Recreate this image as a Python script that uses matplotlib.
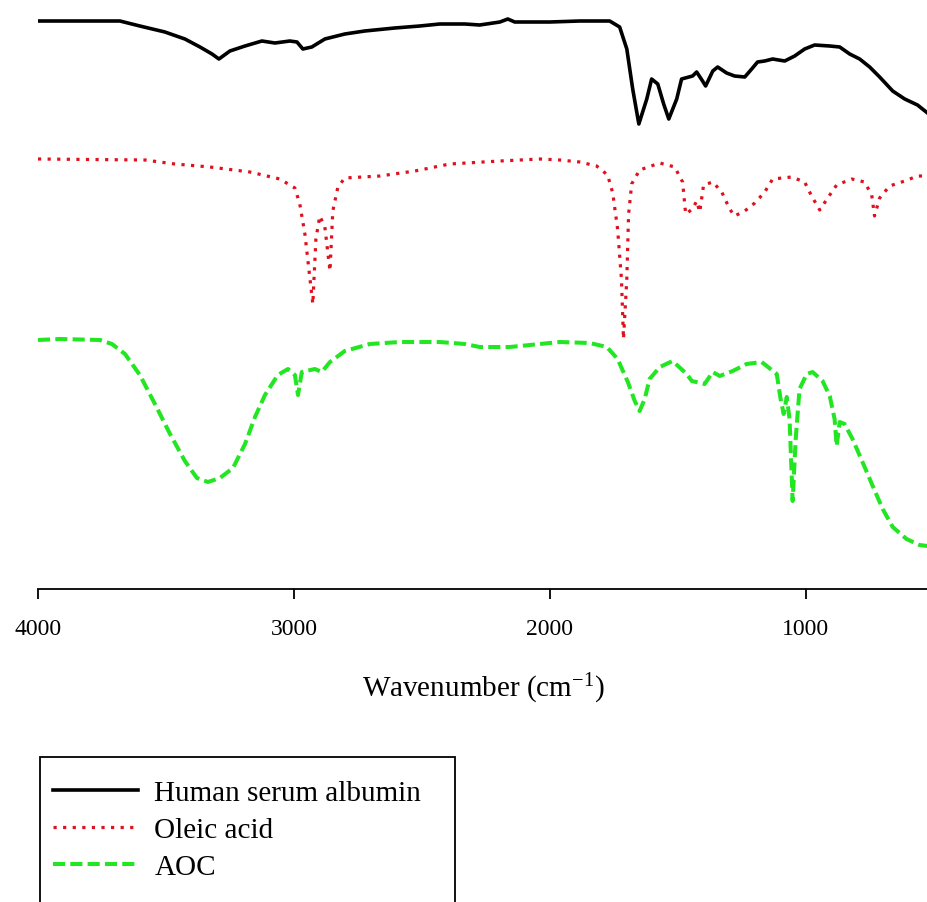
import matplotlib
matplotlib.use("Agg")
import matplotlib.pyplot as plt
from matplotlib.patches import Rectangle

plt.rcParams['font.family'] = ['Liberation Serif', 'DejaVu Serif']
plt.rcParams['mathtext.fontset'] = 'custom'
plt.rcParams['mathtext.rm'] = 'Liberation Serif'
plt.rcParams['mathtext.it'] = 'Liberation Serif:italic'

# FTIR spectra, offset intensity in arbitrary units (curves are stacked)
hsa_wn = [4000, 3680, 3602, 3504, 3426, 3367, 3320, 3293, 3250, 3191,
          3125, 3074, 3016, 2988, 2965, 2930, 2879, 2801, 2723, 2606,
          2508, 2430, 2332, 2274, 2195, 2164, 2137, 2000, 1883, 1766,
          1727, 1699, 1676, 1652, 1621, 1602, 1578, 1555, 1535, 1504,
          1485, 1442, 1426, 1403, 1391, 1363, 1344, 1309, 1278, 1238,
          1211, 1188, 1160, 1129, 1082, 1043, 1004, 965, 906, 867,
          828, 789, 750, 711, 660, 613, 563, 524]
hsa_int = [568, 568, 563, 557, 550, 542, 535, 530, 538, 543,
           548, 546, 548, 547, 540, 542, 550, 555, 558, 561,
           563, 565, 565, 564, 567, 570, 567, 567, 568, 568,
           562, 540, 500, 465, 490, 510, 505, 485, 470, 490,
           510, 513, 517, 508, 503, 518, 522, 516, 513, 512,
           520, 527, 528, 530, 528, 533, 540, 544, 543, 542,
           535, 530, 522, 512, 498, 490, 484, 476]

oleic_wn = [4000, 3582, 3465, 3328, 3172, 3055, 2996, 2977, 2957, 2938,
            2926, 2914, 2899, 2879, 2859, 2848, 2828, 2801, 2664, 2527,
            2391, 2195, 2039, 1961, 1883, 1817, 1774, 1754, 1735, 1720,
            1712, 1699, 1692, 1680, 1649, 1570, 1512, 1481, 1469, 1442,
            1426, 1414, 1399, 1363, 1328, 1297, 1278, 1238, 1199, 1160,
            1129, 1055, 1004, 977, 945, 914, 879, 820, 770, 742,
            731, 711, 672, 613, 563, 524]
oleic_int = [430, 429, 425, 422, 417, 410, 401, 385, 355, 312,
             285, 350, 373, 362, 318, 378, 402, 411, 413, 418,
             425, 428, 430, 429, 427, 423, 414, 396, 360, 310,
             250, 310, 375, 405, 419, 426, 422, 407, 375, 380,
             388, 377, 404, 407, 397, 380, 373, 378, 386, 397,
             410, 412, 407, 393, 379, 391, 404, 410, 407, 394,
             373, 391, 403, 408, 413, 413]

aoc_wn = [4000, 3914, 3758, 3711, 3660, 3602, 3543, 3484, 3426, 3379,
          3336, 3289, 3238, 3191, 3152, 3113, 3063, 3023, 2996, 2984,
          2969, 2918, 2891, 2859, 2801, 2703, 2586, 2430, 2332, 2274,
          2156, 2039, 1961, 1844, 1777, 1735, 1695, 1668, 1649, 1629,
          1610, 1570, 1520, 1465, 1445, 1395, 1363, 1336, 1285, 1231,
          1172, 1113, 1098, 1086, 1074, 1063, 1051, 1039, 1024, 996,
          973, 934, 906, 887, 879, 867, 848, 817, 778, 738,
          699, 660, 606, 555, 524]
aoc_int = [249, 250, 249, 245, 235, 214, 185, 155, 128, 111,
           107, 111, 121, 145, 172, 194, 214, 220, 214, 194,
           217, 220, 217, 227, 238, 245, 247, 247, 245, 242,
           242, 245, 247, 246, 242, 230, 207, 188, 178, 190,
           210, 222, 228, 215, 208, 205, 217, 213, 218, 225,
           227, 215, 190, 175, 192, 170, 88, 150, 200, 215,
           217, 208, 193, 170, 143, 167, 165, 150, 127, 103,
           80, 62, 50, 44, 43]

labels = ['Human serum albumin', 'Oleic acid', 'AOC']
xticks = [4000, 3000, 2000, 1000]

W, H = 928, 903
fig = plt.figure(figsize=(W / 100, H / 100), dpi=100)
ax = fig.add_axes([38 / W, 1 - 590 / H, 890 / W, 590 / H])

ax.plot(hsa_wn, hsa_int, color='black', linewidth=2.6, label=labels[0])
ax.plot(oleic_wn, oleic_int, color='#e0101e', linewidth=2.3,
        linestyle=(0, (1, 2)), label=labels[1])
ax.plot(aoc_wn, aoc_int, color='#22e622', linewidth=2.9,
        linestyle=(0, (3, 1.3)), label=labels[2])

ax.set_xlim(4000, 522)
ax.set_ylim(0, 590)
ax.set_xticks(xticks)
ax.set_xticklabels([str(t) for t in xticks], fontsize=17)
ax.set_yticks([])
ax.tick_params(axis='x', direction='out', length=7, width=1.3, pad=14)
for side in ['top', 'right', 'left']:
    ax.spines[side].set_visible(False)
ax.spines['bottom'].set_linewidth(1.3)
ax.set_xlabel('Wavenumber (cm$^{-1}$)', fontsize=21, labelpad=23)

# legend frame runs past the bottom edge of the figure, as in the original
fig.patches.append(Rectangle((40 / W, 1 - 910 / H), 415 / W, 152 / H,
                             transform=fig.transFigure, fill=False,
                             edgecolor='black', linewidth=1.3))
leg = fig.legend(loc='upper left', bbox_to_anchor=(53 / W, 1 - 781 / H),
                 fontsize=21, frameon=False, handlelength=2.9,
                 handletextpad=0.58, borderpad=0, labelspacing=0.36,
                 borderaxespad=0)

fig.savefig('out.png', dpi=100)
